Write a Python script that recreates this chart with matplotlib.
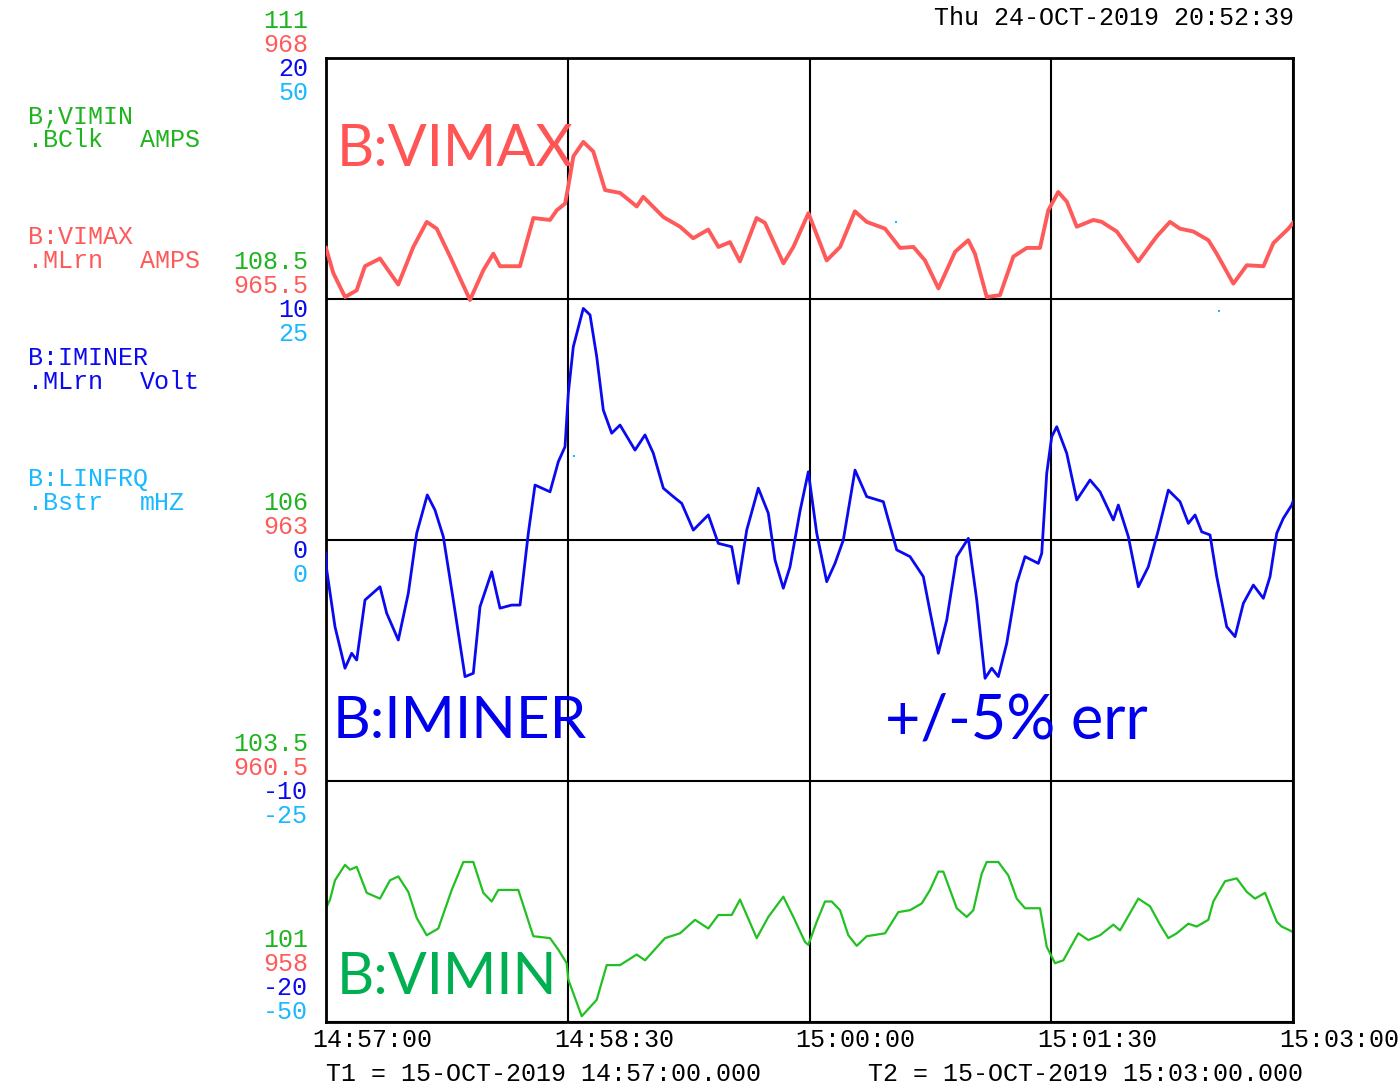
import matplotlib
matplotlib.use("Agg")
import matplotlib.pyplot as plt

# seconds after 14:57:00
vimax_t = [0, 2.7, 7.1, 11.4, 14.5, 20.1, 26.9, 32.5, 37.5, 41.2,
           46.2, 53.6, 58.6, 62.3, 64.8, 72.2, 77.2, 83.4, 85.9, 89.0,
           90.2, 92.1, 95.8, 99.5, 103.9, 109.5, 115.7, 118.1, 125.6, 131.8,
           136.7, 142.3, 146.1, 150.4, 154.1, 160.3, 163.4, 170.3, 174.0, 179.6,
           186.4, 191.4, 196.9, 201.3, 208.1, 213.7, 218.7, 223.0, 228.0, 234.2,
           239.1, 241.6, 246.0, 250.9, 255.9, 260.9, 265.8, 268.9, 272.6, 275.8,
           279.5, 285.7, 288.8, 294.4, 302.4, 309.3, 314.2, 317.9, 322.9, 328.5,
           331.6, 337.8, 342.8, 349.0, 352.7, 358.3, 360]
vimax = [966.03, 965.77, 965.52, 965.59, 965.84, 965.92, 965.65, 966.04, 966.30, 966.23,
         965.94, 965.49, 965.80, 965.97, 965.84, 965.84, 966.34, 966.32, 966.42, 966.49,
         966.67, 966.98, 967.13, 967.03, 966.63, 966.60, 966.46, 966.56, 966.35, 966.25,
         966.13, 966.22, 966.04, 966.09, 965.89, 966.34, 966.29, 965.87, 966.04, 966.39,
         965.90, 966.04, 966.41, 966.30, 966.23, 966.03, 966.04, 965.90, 965.61, 965.99,
         966.11, 965.97, 965.52, 965.54, 965.94, 966.03, 966.03, 966.42, 966.61, 966.51,
         966.25, 966.32, 966.30, 966.20, 965.89, 966.15, 966.30, 966.23, 966.20, 966.11,
         965.97, 965.66, 965.85, 965.84, 966.08, 966.23, 966.29]

iminer_t = [0, 0.26, 3.35, 7.07, 9.57, 11.43, 14.52, 20.10, 22.60, 26.92,
            30.64, 33.77, 37.71, 40.58, 43.67, 47.39, 51.75, 54.84, 57.33, 61.69,
            64.78, 69.14, 72.23, 75.32, 77.81, 83.40, 86.49, 88.98, 90.21, 92.07,
            95.79, 98.29, 100.78, 103.24, 106.37, 109.46, 115.04, 118.76, 121.85, 125.58,
            129.30, 132.43, 136.75, 142.33, 146.05, 151.04, 153.50, 156.63, 160.95, 164.67,
            167.16, 170.25, 172.75, 176.47, 179.56, 182.69, 186.41, 189.50, 192.59, 196.95,
            201.30, 207.48, 212.47, 217.42, 222.37, 224.87, 227.96, 231.09, 234.81, 239.13,
            242.26, 245.35, 247.84, 250.30, 253.42, 257.15, 260.24, 265.19, 266.46, 268.32,
            270.18, 272.04, 275.76, 279.49, 284.44, 288.16, 293.11, 294.97, 298.70, 302.42,
            306.14, 309.87, 313.59, 317.94, 321.04, 323.53, 326.02, 329.11, 331.61, 335.33,
            338.42, 341.51, 345.24, 348.96, 351.45, 353.95, 356.40, 359.53, 360]
iminer = [-0.55, -1.24, -3.60, -5.32, -4.70, -4.98, -2.49, -1.94, -3.04, -4.15,
          -2.21, 0.28, 1.87, 1.24, 0.14, -2.49, -5.67, -5.53, -2.77, -1.32,
          -2.83, -2.70, -2.70, 0.28, 2.28, 2.00, 3.25, 3.87, 6.09, 8.02,
          9.61, 9.34, 7.61, 5.39, 4.43, 4.77, 3.73, 4.36, 3.60, 2.15,
          1.80, 1.52, 0.41, 1.04, -0.14, -0.28, -1.80, 0.41, 2.15, 1.11,
          -0.83, -2.00, -1.11, 1.20, 2.83, 0.28, -1.73, -0.97, 0.00, 2.90,
          1.80, 1.59, -0.41, -0.69, -1.52, -2.97, -4.70, -3.32, -0.69, 0.07,
          -2.49, -5.74, -5.32, -5.67, -4.29, -1.80, -0.69, -0.97, -0.55, 2.77,
          4.29, 4.70, 3.60, 1.66, 2.49, 2.00, 0.83, 1.45, 0.14, -1.94,
          -1.11, 0.41, 2.07, 1.59, 0.69, 1.04, 0.34, 0.21, -1.52, -3.60,
          -4.01, -2.63, -1.87, -2.42, -1.52, 0.28, 0.90, 1.45, 1.60]

vimin_t = [0, 1.49, 3.35, 7.07, 8.94, 11.43, 15.15, 20.10, 23.83, 26.92,
           30.64, 33.77, 37.49, 41.81, 46.80, 51.12, 54.84, 58.56, 61.69, 64.15,
           71.59, 77.18, 83.40, 86.49, 89.61, 90.21, 95.20, 100.78, 104.50, 109.46,
           115.67, 118.76, 126.21, 131.79, 137.38, 142.33, 146.05, 151.04, 154.13, 160.35,
           164.67, 170.25, 173.98, 178.33, 179.56, 182.69, 185.78, 188.27, 191.36, 194.45,
           197.58, 201.30, 208.12, 213.07, 217.42, 221.78, 224.87, 227.96, 229.82, 234.81,
           238.53, 240.99, 244.12, 245.98, 250.30, 254.02, 257.15, 260.24, 265.82, 268.32,
           271.41, 274.50, 280.08, 283.80, 288.16, 293.11, 295.61, 302.42, 306.78, 310.50,
           313.59, 316.72, 321.04, 324.16, 328.48, 330.34, 334.70, 339.05, 342.78, 345.87,
           349.59, 353.95, 355.81, 359.53, 360]
vimin = [102.18, 102.27, 102.47, 102.63, 102.58, 102.61, 102.34, 102.28, 102.47, 102.51,
         102.35, 102.08, 101.90, 101.97, 102.37, 102.66, 102.66, 102.34, 102.25, 102.37,
         102.37, 101.89, 101.87, 101.75, 101.61, 101.44, 101.06, 101.23, 101.59, 101.59,
         101.70, 101.64, 101.87, 101.92, 102.06, 101.97, 102.11, 102.11, 102.27, 101.87,
         102.09, 102.30, 102.09, 101.83, 101.80, 102.04, 102.25, 102.25, 102.16, 101.90,
         101.79, 101.89, 101.92, 102.14, 102.16, 102.23, 102.37, 102.56, 102.56, 102.18,
         102.09, 102.16, 102.54, 102.66, 102.66, 102.52, 102.28, 102.18, 102.18, 101.78,
         101.61, 101.64, 101.92, 101.85, 101.90, 102.01, 101.95, 102.28, 102.20, 102.01,
         101.87, 101.92, 102.02, 101.99, 102.06, 102.25, 102.46, 102.49, 102.35, 102.28,
         102.34, 102.04, 101.99, 101.94, 101.93]

linfrq_t = [92.3, 212.2, 332.5]
linfrq = [8.7, 33.0, 23.8]

time_ticks = [0, 90, 180, 270, 360]
time_labels = ["14:57:00", "14:58:30", "15:00:00", "15:01:30", "15:03:00"]
green_ticks = ["111", "108.5", "106", "103.5", "101"]
red_ticks = ["968", "965.5", "963", "960.5", "958"]
blue_ticks = ["20", "10", "0", "-10", "-20"]
cyan_ticks = ["50", "25", "0", "-25", "-50"]

GREEN = '#1fb41f'
RED = '#ff5a5a'
BLUE = '#0a0af0'
CYAN = '#1ab8ff'
MONO = 'Liberation Mono'
FS = 18

fig = plt.figure(figsize=(13.98, 10.84), dpi=100)
ax = fig.add_axes([326 / 1398, 62 / 1084, 967 / 1398, 964 / 1084])
ax_r = ax.twinx()
ax_b = ax.twinx()
ax_c = ax.twinx()

ax.plot(vimin_t, vimin, color='#22c022', lw=1.6)
ax_r.plot(vimax_t, vimax, color=RED, lw=2.8)
ax_b.plot(iminer_t, iminer, color=BLUE, lw=2.0)
ax_c.scatter(linfrq_t, linfrq, color=CYAN, s=4, marker='s', lw=0)

ax.set_xlim(0, 360)
ax.set_ylim(101, 111)
ax_r.set_ylim(958, 968)
ax_b.set_ylim(-20, 20)
ax_c.set_ylim(-50, 50)

for a in (ax_r, ax_b, ax_c):
    a.set_yticks([])
    for s in a.spines.values():
        s.set_visible(False)

ax.set_xticks(time_ticks)
ax.set_yticks([101, 103.5, 106, 108.5, 111])
ax.grid(True, color='black', lw=1.5)
ax.tick_params(length=0, labelbottom=False, labelleft=False)
for s in ax.spines.values():
    s.set_linewidth(2)
    s.set_color('black')

# time labels
for t, lab in zip(time_ticks, time_labels):
    ax.annotate(lab, xy=(t, 0), xycoords=ax.get_xaxis_transform(),
                xytext=(-14, -18), textcoords='offset pixels',
                ha='left', va='center', family=MONO, fontsize=FS, color='black')

# stacked value labels at each horizontal gridline
offsets = [(37, GREEN, green_ticks), (13, RED, red_ticks),
           (-11, BLUE, blue_ticks), (-35, CYAN, cyan_ticks)]
for i in range(5):
    yfrac = 1 - i / 4
    shift = 45 if i == 4 else 0
    for dy, col, labs in offsets:
        ax.annotate(labs[i], xy=(0, yfrac), xycoords='axes fraction',
                    xytext=(-18, dy + shift), textcoords='offset pixels',
                    ha='right', va='center', family=MONO, fontsize=FS, color=col)

# left legend
legend = [("B;VIMIN", ".BClk", "AMPS", GREEN, 116),
          ("B:VIMAX", ".MLrn", "AMPS", RED, 237),
          ("B:IMINER", ".MLrn", "Volt", BLUE, 358),
          ("B:LINFRQ", ".Bstr", "mHZ", CYAN, 479)]
for name, sub, unit, col, y in legend:
    fig.text(28 / 1398, 1 - y / 1084, name, family=MONO, fontsize=FS,
             color=col, va='center')
    fig.text(28 / 1398, 1 - (y + 24) / 1084, sub, family=MONO, fontsize=FS,
             color=col, va='center')
    fig.text(140 / 1398, 1 - (y + 24) / 1084, unit, family=MONO, fontsize=FS,
             color=col, va='center')

fig.text(1294 / 1398, 1 - 18 / 1084, "Thu 24-OCT-2019 20:52:39", family=MONO,
         fontsize=FS, ha='right', va='center')
fig.text(326 / 1398, 1 - 1074 / 1084, "T1 = 15-OCT-2019 14:57:00.000", family=MONO,
         fontsize=FS, va='center')
fig.text(868 / 1398, 1 - 1074 / 1084, "T2 = 15-OCT-2019 15:03:00.000", family=MONO,
         fontsize=FS, va='center')

# big annotations
BIG = 'Lato'
ax.text(0.011, 0.905, "B:VIMAX", transform=ax.transAxes, fontsize=41.5,
        color='#ff5555', family=BIG, va='center')
ax.text(0.007, 0.312, "B:IMINER", transform=ax.transAxes, fontsize=42,
        color='#0000ee', family=BIG, va='center')
ax.text(0.578, 0.312, "+/-5% err", transform=ax.transAxes, fontsize=44,
        color='#0000ee', family=BIG, va='center')
ax.text(0.011, 0.046, "B:VIMIN", transform=ax.transAxes, fontsize=41.5,
        color='#00b050', family=BIG, va='center')

fig.savefig("out.png", dpi=100, facecolor='white')
